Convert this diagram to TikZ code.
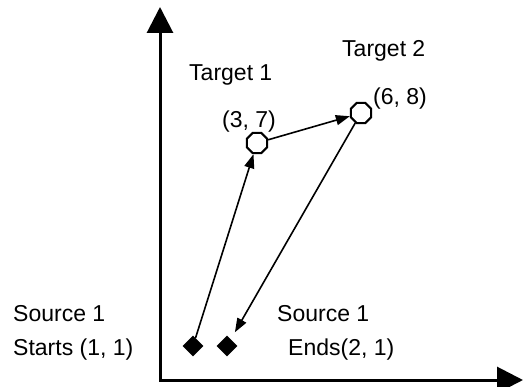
\documentclass[tikz,border=0pt]{standalone}
\usepackage{fontspec}
\setmainfont{Liberation Sans}
\usetikzlibrary{arrows.meta,shapes.geometric}

\begin{document}
\begin{tikzpicture}[x=1pt,y=-1pt,
  tgt/.style={regular polygon,regular polygon sides=8,draw,line width=2pt,fill=white,minimum size=22pt,inner sep=0pt},
  src/.style={diamond,fill=black,minimum size=21pt,inner sep=0pt},
  lbl/.style={anchor=base west,inner sep=0pt,font=\fontsize{23}{27}\selectfont},
  axis/.style={line width=3pt,line join=miter,{Triangle[length=26pt,width=26pt]}-{Triangle[length=26pt,width=26pt]}},
  link/.style={line width=1.6pt,-{Triangle[length=14pt,width=10pt]}}]
  \useasboundingbox (0,0) rectangle (524,387);

  % axes
  \coordinate (origin) at (160,380);
  \coordinate (ytip) at (160,7);
  \coordinate (xtip) at (523,380);
  \draw[axis] (ytip) -- (origin) -- (xtip);

  % start and end points
  \node[src] (s1) at (193,346) {};
  \node[src] (s2) at (227,346) {};
  \node[tgt] (t1) at (257,143) {};
  \node[tgt] (t2) at (361,113) {};

  % labels
  \node[lbl] (t1name) at (189,81) {Target 1};
  \node[lbl] (t1pos) at (222,128) {(3, 7)};
  \node[lbl] (t2name) at (342,57) {Target 2};
  \node[lbl] (t2pos) at (373,105) {(6, 8)};
  \node[lbl] (s1name) at (13,321) {Source 1};
  \node[lbl] (s1pos) at (13,355) {Starts (1, 1)};
  \node[lbl] (s2name) at (277,321) {Source 1};
  \node[lbl] (s2pos) at (288,355) {Ends(2, 1)};

  % path of the source
  \draw[link] (s1) -- (t1);
  \draw[link] (t1) -- (t2);
  \draw[link,shorten >=8pt] (t2) -- (s2);
\end{tikzpicture}
\end{document}
